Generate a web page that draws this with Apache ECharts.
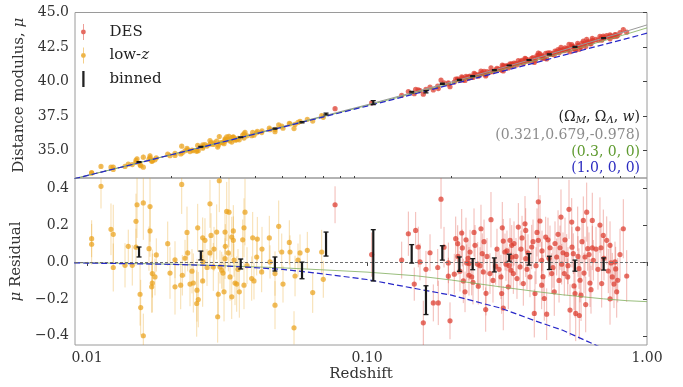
<!DOCTYPE html>
<html>
<head>
<meta charset="utf-8">
<script src="https://cdn.jsdelivr.net/npm/echarts@6/dist/echarts.min.js"></script>
<style>
  html, body { margin: 0; padding: 0; background: #fff; }
  #chart { width: 683px; height: 387px; }
</style>
</head>
<body>
<div id="chart"></div>
<script>
// rows: [redshift, mu residual, error]
const lowzData = [
  [0.01122, 0.41, 0.12], [0.01039, 0.126, 0.10], [0.01039, 0.096, 0.11], [0.01218, 0.177, 0.14],
  [0.01241, 0.15, 0.16], [0.01241, -0.03, 0.13], [0.01404, 0.085, 0.09], [0.01367, -0.018, 0.12],
  [0.01509, 0.31, 0.18], [0.01589, 0.32, 0.20], [0.01496, 0.22, 0.15], [0.01496, 0.08, 0.10],
  [0.01451, -0.018, 0.11], [0.01679, 0.30, 0.19], [0.01679, 0.168, 0.14], [0.01665, 0.072, 0.12],
  [0.01547, -0.175, 0.17], [0.01555, -0.247, 0.15], [0.01589, -0.40, 0.12], [0.01711, -0.063, 0.13],
  [0.01749, -0.081, 0.10], [0.01711, -0.114, 0.16], [0.01702, -0.135, 0.14], [0.01768, 0.038, 0.09],
  [0.02179, 0.42, 0.16], [0.01942, 0.099, 0.12], [0.01979, -0.06, 0.14], [0.02062, 0.012, 0.10],
  [0.02062, -0.135, 0.15], [0.0219, -0.072, 0.11], [0.02161, -0.126, 0.13], [0.02276, 0.16, 0.14],
  [0.02289, 0.049, 0.10], [0.02333, -0.12, 0.12], [0.02397, -0.114, 0.16], [0.02485, 0.185, 0.13],
  [0.02471, -0.153, 0.17], [0.02497, -0.204, 0.15], [0.02465, -0.225, 0.18], [0.02589, 0.131, 0.11],
  [0.02638, 0.117, 0.12], [0.02589, -0.103, 0.14], [0.02749, 0.315, 0.13], [0.02773, 0.144, 0.12],
  [0.02749, 0.049, 0.09], [0.02905, 0.162, 0.15], [0.02825, -0.027, 0.13], [0.02944, -0.175, 0.12],
  [0.02929, -0.297, 0.14], [0.03028, -0.045, 0.10], [0.02968, 0.44, 0.17], [0.03155, 0.274, 0.16],
  [0.03215, 0.27, 0.19], [0.03111, 0.162, 0.12], [0.03331, 0.168, 0.14], [0.03288, 0.135, 0.11],
  [0.03331, 0.117, 0.13], [0.03119, 0.085, 0.12], [0.03197, 0.049, 0.10], [0.03111, 0.018, 0.11],
  [0.02985, -0.027, 0.09], [0.03242, -0.081, 0.13], [0.03378, -0.114, 0.12], [0.03425, -0.12, 0.15],
  [0.03086, -0.162, 0.16], [0.03288, -0.189, 0.12], [0.03499, -0.162, 0.14], [0.03667, 0.27, 0.18],
  [0.03637, 0.185, 0.16], [0.03598, 0.12, 0.11], [0.03637, -0.126, 0.13], [0.03874, -0.09, 0.12],
  [0.03948, -0.103, 0.10], [0.03906, 0.131, 0.14], [0.04057, 0.124, 0.12], [0.04037, 0.027, 0.10],
  [0.04206, -0.054, 0.11], [0.04478, 0.13, 0.12], [0.04504, 0.0, 0.09], [0.04693, -0.063, 0.12],
  [0.04693, -0.234, 0.13], [0.04838, 0.193, 0.14], [0.0496, 0.054, 0.10], [0.05279, 0.106, 0.12],
  [0.05309, 0.054, 0.09], [0.05533, -0.076, 0.11], [0.05765, 0.049, 0.10], [0.05487, -0.357, 0.09],
  [0.06121, 0.063, 0.10], [0.06399, -0.166, 0.11], [0.06889, 0.054, 0.12], [0.0698, -0.094, 0.10],
  [0.02239, 0.02, 0.10], [0.02371, -0.05, 0.12], [0.02596, 0.0, 0.11], [0.02683, -0.03, 0.10],
  [0.02842, 0.07, 0.12], [0.0306, -0.06, 0.10], [0.0335, 0.01, 0.09], [0.03462, -0.04, 0.11],
  [0.03728, -0.02, 0.10], [0.04217, 0.07, 0.12], [0.05012, -0.12, 0.10], [0.0567, 0.01, 0.09]
];

const desData = [
  [0.0769, 0.31, 0.10], [0.1039, 0.04, 0.12], [0.133, 0.01, 0.10], [0.1405, 0.153, 0.12],
  [0.1492, 0.171, 0.10], [0.1525, 0.081, 0.11], [0.1475, -0.12, 0.09], [0.1546, 0.0, 0.10],
  [0.1589, -0.33, 0.12], [0.1838, 0.34, 0.16], [0.1789, -0.03, 0.10], [0.1725, -0.222, 0.10],
  [0.1797, -0.222, 0.12], [0.1979, -0.319, 0.10], [0.1952, -0.005, 0.11], [0.1952, -0.077, 0.10],
  [0.2074, 0.126, 0.12], [0.2108, 0.099, 0.10], [0.205, -0.066, 0.11], [0.2179, 0.157, 0.13],
  [0.219, 0.076, 0.10], [0.2208, -0.103, 0.12], [0.2239, -0.162, 0.11], [0.227, -0.005, 0.10],
  [0.2333, 0.054, 0.12], [0.2313, -0.009, 0.09], [0.2313, -0.072, 0.11], [0.2365, -0.081, 0.10],
  [0.2485, -0.012, 0.12], [0.2497, -0.131, 0.10], [0.2553, 0.18, 0.13], [0.258, 0.045, 0.11],
  [0.2602, -0.054, 0.10], [0.2654, -0.258, 0.12], [0.2772, 0.229, 0.15], [0.2749, -0.063, 0.11],
  [0.2881, -0.023, 0.10], [0.3009, -0.081, 0.12], [0.3042, 0.185, 0.14], [0.3027, -0.171, 0.11],
  [0.3067, 0.113, 0.12], [0.3111, 0.054, 0.10], [0.3196, -0.135, 0.12], [0.3288, 0.09, 0.11],
  [0.3268, -0.045, 0.10], [0.3136, -0.012, 0.09], [0.3242, 0.117, 0.12], [0.3288, 0.027, 0.10],
  [0.3331, -0.063, 0.11], [0.3471, 0.189, 0.13], [0.352, -0.027, 0.10], [0.3616, -0.117, 0.12],
  [0.3667, 0.207, 0.15], [0.3688, 0.171, 0.12], [0.3688, 0.018, 0.10], [0.382, -0.081, 0.11],
  [0.3874, 0.081, 0.12], [0.3958, -0.279, 0.13], [0.3981, -0.171, 0.12], [0.4091, 0.326, 0.17],
  [0.4091, 0.117, 0.12], [0.4148, 0.222, 0.14], [0.4206, 0.009, 0.10], [0.4206, -0.126, 0.13],
  [0.4297, -0.198, 0.12], [0.4347, 0.135, 0.11], [0.4383, -0.283, 0.14], [0.4504, 0.077, 0.12],
  [0.4567, -0.063, 0.11], [0.4665, -0.162, 0.13], [0.4758, 0.027, 0.10], [0.489, 0.077, 0.12],
  [0.493, 0.243, 0.15], [0.4959, -0.012, 0.11], [0.5066, -0.063, 0.12], [0.521, -0.081, 0.10],
  [0.5167, 0.041, 0.11], [0.5266, 0.285, 0.16], [0.5309, -0.261, 0.14], [0.5385, 0.216, 0.13],
  [0.5456, 0.045, 0.11], [0.5533, -0.171, 0.13], [0.5565, -0.279, 0.15], [0.5656, 0.18, 0.12],
  [0.5717, -0.036, 0.11], [0.5765, -0.099, 0.12], [0.5813, -0.18, 0.14], [0.5923, 0.225, 0.13],
  [0.6006, 0.027, 0.11], [0.6041, -0.231, 0.15], [0.609, 0.27, 0.16], [0.6141, 0.072, 0.12],
  [0.6258, -0.114, 0.13], [0.6377, 0.225, 0.15], [0.6377, 0.076, 0.12], [0.643, 0.009, 0.11],
  [0.689, -0.117, 0.13], [0.6851, 0.077, 0.12], [0.6981, 0.144, 0.14], [0.718, 0.117, 0.13],
  [0.7274, -0.049, 0.12], [0.7437, -0.005, 0.11], [0.7517, -0.081, 0.13], [0.7795, -0.162, 0.14],
  [0.786, -0.099, 0.12], [0.7686, 0.0, 0.11], [0.823, 0.18, 0.16], [0.8463, -0.076, 0.14],
  [0.3067, -0.25, 0.12], [0.5731, -0.29, 0.13], [0.7728, -0.038, 0.12],
  [0.2113, 0.03, 0.10], [0.2148, -0.05, 0.11], [0.2257, 0.12, 0.12], [0.2295, 0.02, 0.10],
  [0.2391, -0.11, 0.12], [0.2431, 0.09, 0.11], [0.2533, -0.02, 0.10], [0.2618, 0.11, 0.12],
  [0.2683, 0.03, 0.10], [0.2818, -0.10, 0.12], [0.2912, 0.07, 0.11], [0.2961, -0.04, 0.10],
  [0.2411, 0.16, 0.13], [0.2661, -0.17, 0.12], [0.1884, 0.08, 0.11], [0.1679, 0.05, 0.10],
  [0.1624, -0.04, 0.10], [0.3162, 0.06, 0.11], [0.3215, -0.02, 0.10], [0.335, 0.10, 0.12],
  [0.3405, 0.03, 0.10], [0.3433, -0.09, 0.11], [0.3548, 0.07, 0.10], [0.3578, 0.13, 0.12],
  [0.3728, -0.04, 0.11], [0.3758, 0.05, 0.10], [0.3917, 0.11, 0.12], [0.4015, -0.02, 0.10],
  [0.4048, 0.16, 0.13], [0.4217, 0.06, 0.11], [0.4252, -0.08, 0.12], [0.443, 0.12, 0.12],
  [0.4467, 0.02, 0.10], [0.4617, -0.03, 0.11], [0.4693, 0.10, 0.12], [0.4812, 0.15, 0.13],
  [0.4852, -0.10, 0.12], [0.5012, 0.05, 0.11], [0.5095, 0.12, 0.12], [0.5223, -0.02, 0.10],
  [0.5397, 0.08, 0.11], [0.5487, -0.13, 0.13], [0.567, 0.03, 0.11], [0.586, 0.11, 0.12],
  [0.5957, -0.06, 0.11], [0.6208, 0.04, 0.12], [0.631, -0.15, 0.13], [0.6576, 0.07, 0.12],
  [0.6683, -0.04, 0.11], [0.7021, 0.02, 0.12], [0.7378, 0.09, 0.13], [0.7623, -0.12, 0.13],
  [0.801, 0.04, 0.14], [0.7378, -0.20, 0.14], [0.6792, 0.20, 0.15]
];

const binnedData = [
  [0.01534, 0.054, 0.027], [0.0255, 0.035, 0.024], [0.0354, -0.011, 0.027], [0.0469, -0.011, 0.038],
  [0.0586, -0.046, 0.045], [0.0714, 0.097, 0.065], [0.1053, 0.036, 0.139], [0.1444, 0.044, 0.05],
  [0.1624, -0.207, 0.078], [0.1858, 0.049, 0.039], [0.2137, -0.012, 0.039], [0.2385, -0.012, 0.03],
  [0.285, -0.016, 0.038], [0.322, 0.023, 0.019], [0.379, 0.014, 0.031], [0.448, -0.005, 0.036],
  [0.553, -0.02, 0.03], [0.70, -0.011, 0.033]
];

// model curves: best fit mu, and the two alternatives as residuals from it
const modelZ = [0.009, 0.01, 0.015, 0.02, 0.03, 0.05, 0.07, 0.1, 0.15, 0.2, 0.3, 0.4, 0.5, 0.7, 0.85, 1.0];
const fitMu = [32.94, 33.18, 34.06, 34.70, 35.59, 36.73, 37.50, 38.31, 39.27, 39.96, 40.96, 41.68, 42.26, 43.15, 43.66, 44.10];
const res03 = [-0.004, -0.005, -0.008, -0.012, -0.02, -0.032, -0.043, -0.055, -0.075, -0.098, -0.135, -0.16, -0.178, -0.2, -0.21, -0.215];
const res10 = [-0.005, -0.006, -0.01, -0.013, -0.02, -0.04, -0.065, -0.095, -0.145, -0.18, -0.25, -0.32, -0.37, -0.47, -0.54, -0.6];

const xTickZ = [0.01, 0.1, 1];
const xMinorZ = [0.02, 0.03, 0.04, 0.05, 0.06, 0.07, 0.08, 0.09, 0.2, 0.3, 0.4, 0.5, 0.6, 0.7, 0.8, 0.9];
const muTicks = [35, 37.5, 40, 42.5, 45];
const resTicks = [-0.4, -0.2, 0, 0.2, 0.4];

const FONT = 'DejaVu Serif';
const TXT = '#333';
const DES_COLOR = '#dc3a2c';
const LOWZ_COLOR = '#eaa21c';
const lg = Math.log10;
const X_MIN = lg(0.00906);

// best-fit distance modulus at z (linear in log z between the read nodes)
function fitAt(z) {
  const t = lg(z);
  for (let i = 1; i < modelZ.length; i++) {
    if (t <= lg(modelZ[i]) || i === modelZ.length - 1) {
      const a = lg(modelZ[i - 1]), b = lg(modelZ[i]);
      return fitMu[i - 1] + (t - a) / (b - a) * (fitMu[i] - fitMu[i - 1]);
    }
  }
}

function pointRender(color) {
  return function (params, api) {
    const x = api.value(0), y = api.value(1), e = api.value(2);
    const p = api.coord([x, y]);
    const hi = api.coord([x, y + e]);
    const lo = api.coord([x, y - e]);
    return {
      type: 'group',
      children: [
        { type: 'line', shape: { x1: p[0], y1: hi[1], x2: p[0], y2: lo[1] }, style: { stroke: color, lineWidth: 1, opacity: 0.36 } },
        { type: 'circle', shape: { cx: p[0], cy: p[1], r: 2.6 }, style: { fill: color, opacity: 0.72 } }
      ]
    };
  };
}

function binRender(params, api) {
  const x = api.value(0), y = api.value(1), e = api.value(2);
  const hi = api.coord([x, y + e]);
  const lo = api.coord([x, y - e]);
  const c = 2.5;
  const st = { stroke: '#1a1a1a', lineWidth: 1.3 };
  return {
    type: 'group',
    children: [
      { type: 'line', shape: { x1: hi[0], y1: hi[1], x2: lo[0], y2: lo[1] }, style: { stroke: '#1a1a1a', lineWidth: 2.2 } },
      { type: 'line', shape: { x1: hi[0] - c, y1: hi[1], x2: hi[0] + c, y2: hi[1] }, style: st },
      { type: 'line', shape: { x1: lo[0] - c, y1: lo[1], x2: lo[0] + c, y2: lo[1] }, style: st }
    ]
  };
}

const toRes = rows => rows.map(d => [lg(d[0]), d[1], d[2]]);
const toMu = rows => rows.map(d => [lg(d[0]), fitAt(d[0]) + d[1], d[2]]);

function xAxisBase(grid) {
  return {
    type: 'value', gridIndex: grid, min: X_MIN, max: 0,
    splitLine: { show: false }, axisLine: { show: false }
  };
}

function pointSeries(name, color, rows, panel) {
  return {
    name: name, type: 'custom', xAxisIndex: panel === 0 ? 0 : 1, yAxisIndex: panel,
    clip: true, z: 2,
    itemStyle: { color: color },
    encode: { x: 0, y: 1 },
    renderItem: pointRender(color),
    data: panel === 0 ? toMu(rows) : toRes(rows)
  };
}

function lineSeries(data, panel, style, z) {
  return {
    type: 'line', xAxisIndex: panel === 0 ? 0 : 1, yAxisIndex: panel,
    data: data, symbol: 'none', silent: true, z: z || 3,
    lineStyle: style
  };
}

const fitStyle = { color: '#9a9a9a', width: 1 };
const s03Style = { color: '#7fae5c', width: 1, opacity: 0.8 };
const s10Style = { color: '#2727c8', width: 1.2, type: [6, 3] };

const chart = echarts.init(document.getElementById('chart'));

const option = {
  animation: false,
  backgroundColor: '#fff',
  grid: [
    { left: 75, right: 36, top: 12.5, height: 165.5, show: true, borderColor: '#9a9a9a', borderWidth: 1 },
    { left: 75, right: 36, top: 178, height: 167, show: true, borderColor: '#9a9a9a', borderWidth: 1 }
  ],
  xAxis: [
    Object.assign(xAxisBase(0), { axisTick: { show: false }, axisLabel: { show: false } }),
    Object.assign(xAxisBase(1), {
      name: 'Redshift', nameLocation: 'middle', nameGap: 22,
      nameTextStyle: { fontFamily: FONT, fontSize: 15, color: TXT },
      axisTick: { show: true, length: 4, lineStyle: { color: '#444' }, customValues: xTickZ.map(lg) },
      axisLabel: {
        show: true, margin: 6, fontFamily: FONT, fontSize: 14, color: TXT,
        customValues: xTickZ.map(lg),
        formatter: v => Math.pow(10, v).toFixed(2)
      }
    }),
    Object.assign(xAxisBase(1), {
      axisTick: { show: true, length: 2, lineStyle: { color: '#444' }, customValues: xMinorZ.map(lg) },
      axisLabel: { show: false }
    })
  ],
  yAxis: [
    {
      type: 'value', gridIndex: 0, min: 33, max: 45,
      name: 'Distance modulus, {i|μ}', nameLocation: 'middle', nameGap: 44,
      nameTextStyle: {
        fontFamily: FONT, fontSize: 15, color: TXT,
        rich: { i: { fontFamily: FONT, fontSize: 15, fontStyle: 'italic', color: TXT } }
      },
      splitLine: { show: false }, axisLine: { show: false },
      axisTick: { show: true, length: 4, lineStyle: { color: '#444' }, customValues: muTicks },
      axisLabel: {
        margin: 6, fontFamily: FONT, fontSize: 14, color: TXT,
        customValues: muTicks, formatter: v => v.toFixed(1)
      }
    },
    {
      type: 'value', gridIndex: 1, min: -0.45, max: 0.455,
      name: '{i|μ} Residual', nameLocation: 'middle', nameGap: 44,
      nameTextStyle: {
        fontFamily: FONT, fontSize: 15, color: TXT,
        rich: { i: { fontFamily: FONT, fontSize: 15, fontStyle: 'italic', color: TXT } }
      },
      splitLine: { show: false }, axisLine: { show: false },
      axisTick: { show: true, length: 4, lineStyle: { color: '#444' }, customValues: resTicks },
      axisLabel: {
        margin: 6, fontFamily: FONT, fontSize: 14, color: TXT,
        customValues: resTicks, formatter: v => v.toFixed(1).replace('-', '\u2212')
      }
    }
  ],
  legend: {
    left: 81, top: 24, orient: 'vertical', padding: 0,
    itemWidth: 42, itemHeight: 16, itemGap: 7.5,
    selectedMode: false,
    data: [
      { name: 'DES', icon: 'path://M4.6,0 L5.4,0 L5.4,20 L4.6,20 Z M5,7 A3,3 0 1 1 4.99,7 Z', itemStyle: { color: DES_COLOR, opacity: 0.75 } },
      { name: 'low-z', icon: 'path://M4.6,0 L5.4,0 L5.4,20 L4.6,20 Z M5,7 A3,3 0 1 1 4.99,7 Z', itemStyle: { color: LOWZ_COLOR, opacity: 0.8 } },
      { name: 'binned', icon: 'path://M0,0 L2,0 L2,14 L0,14 Z', itemStyle: { color: '#222' } }
    ],
    formatter: name => name === 'low-z' ? '{n|low-}{i|z}' : '{n|' + name + '}',
    textStyle: {
      fontFamily: FONT, fontSize: 15, color: '#222',
      rich: {
        n: { fontFamily: FONT, fontSize: 15, color: '#222' },
        i: { fontFamily: FONT, fontSize: 15, fontStyle: 'italic', color: '#222' }
      }
    }
  },
  graphic: [
    {
      type: 'text', x: 640, y: 117,
      style: {
        text: '{a|(Ω}{s|M}{a|, Ω}{s|Λ}{a|, }{w|w}{a|)}',
        align: 'right', verticalAlign: 'middle',
        rich: {
          a: { fontFamily: FONT, fontSize: 14, fill: '#222' },
          w: { fontFamily: FONT, fontSize: 14, fontStyle: 'italic', fill: '#222' },
          s: { fontFamily: FONT, fontSize: 10, fontStyle: 'italic', fill: '#222', padding: [7, 0, 0, 0] }
        }
      }
    },
    { type: 'text', x: 640, y: 135, style: { text: '(0.321,0.679,-0.978)', fontFamily: FONT, fontSize: 14, fill: '#8c8c8c', align: 'right', verticalAlign: 'middle' } },
    { type: 'text', x: 640, y: 152, style: { text: '(0.3, 0, 0)', fontFamily: FONT, fontSize: 14, fill: '#5e9a2e', align: 'right', verticalAlign: 'middle' } },
    { type: 'text', x: 640, y: 168, style: { text: '(1.0, 0, 0)', fontFamily: FONT, fontSize: 14, fill: '#2b2bc0', align: 'right', verticalAlign: 'middle' } }
  ],
  series: [
    pointSeries('low-z', LOWZ_COLOR, lowzData, 0),
    pointSeries('DES', DES_COLOR, desData, 0),
    lineSeries(modelZ.map((z, i) => [lg(z), fitMu[i]]), 0, fitStyle),
    lineSeries(modelZ.map((z, i) => [lg(z), fitMu[i] + res03[i]]), 0, s03Style),
    lineSeries(modelZ.map((z, i) => [lg(z), fitMu[i] + res10[i]]), 0, s10Style),
    {
      name: 'binned', type: 'custom', xAxisIndex: 0, yAxisIndex: 0, clip: true, z: 5,
      itemStyle: { color: '#222' }, encode: { x: 0, y: 1 },
      renderItem: binRender, data: toMu(binnedData)
    },

    pointSeries('low-z', LOWZ_COLOR, lowzData, 1),
    pointSeries('DES', DES_COLOR, desData, 1),
    Object.assign(lineSeries(modelZ.map((z, i) => [lg(z), res03[i]]), 1, s03Style), {
      markLine: {
        silent: true, symbol: 'none', label: { show: false },
        lineStyle: { color: '#6e6e6e', width: 1, type: [3, 2] },
        data: [{ yAxis: 0 }]
      }
    }),
    lineSeries(modelZ.map((z, i) => [lg(z), res10[i]]), 1, s10Style),
    {
      name: 'binned', type: 'custom', xAxisIndex: 1, yAxisIndex: 1, clip: true, z: 5,
      itemStyle: { color: '#222' }, encode: { x: 0, y: 1 },
      renderItem: binRender, data: toRes(binnedData)
    }
  ]
};

chart.setOption(option);
</script>
</body>
</html>
